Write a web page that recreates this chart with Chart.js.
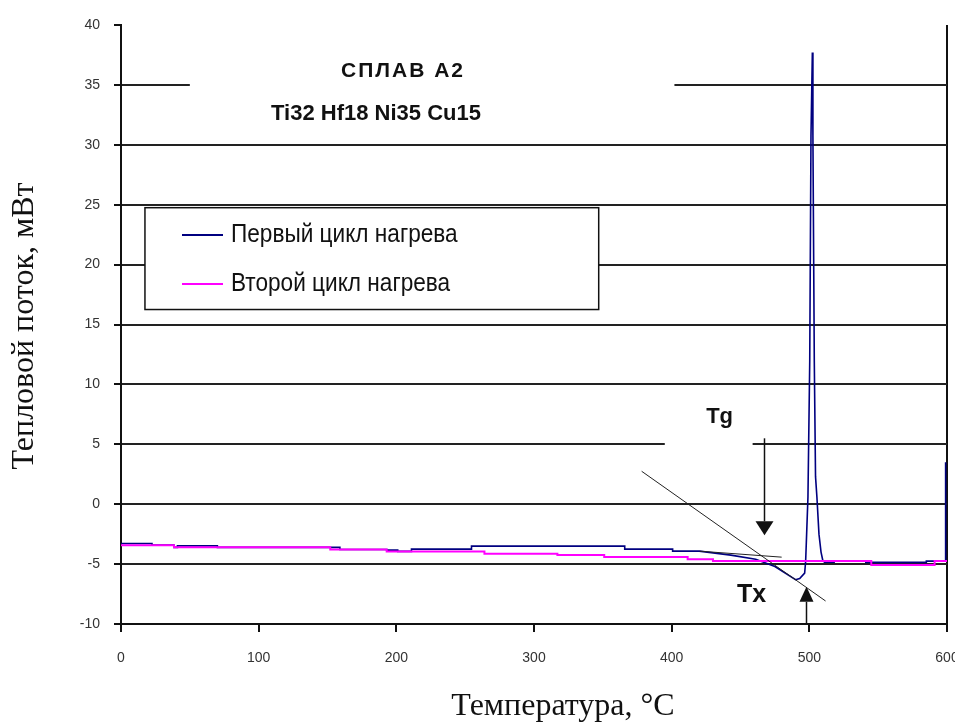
<!DOCTYPE html>
<html>
<head>
<meta charset="utf-8">
<script src="https://cdn.jsdelivr.net/npm/chart.js@4.4.1/dist/chart.umd.min.js"></script>
<style>
  body { margin: 0; background: #fff; }
  canvas { display: block; }
</style>
</head>
<body>
<canvas id="dsc" width="955" height="722"></canvas>
<script>
// first heating cycle (blue)
var temps1 = [0, 22.5, 22.5, 38.5, 38.5, 41, 41, 70, 70, 159, 159, 193, 193, 201, 201, 211, 211, 254.6, 254.6,
  365.9, 365.9, 400.7, 400.7, 420, 443, 461, 475, 490, 493, 496.6, 497.3, 497.8, 499, 500.3, 501.2, 502.2,
  502.6, 503.6, 504.5, 505.5, 507, 508.5, 509.8, 511, 518, 518, 541, 541, 585, 585, 598.6, 599]
var heat1 = [-3.28, -3.28, -3.42, -3.42, -3.6, -3.6, -3.48, -3.48, -3.6, -3.6, -3.78, -3.78, -3.83, -3.83, -3.94, -3.94, -3.75, -3.75, -3.5,
  -3.5, -3.75, -3.75, -3.92, -3.92, -4.25, -4.6, -5.2, -6.3, -6.2, -5.75, -4.8, -3.25, 0.6, 12, 30.8, 37.7,
  30.8, 12, 2.3, 0.6, -2.5, -4, -4.7, -4.85, -4.85, -4.75, -4.75, -4.86, -4.86, -4.75, -4.75, 3.5]

// second heating cycle (magenta)
var temps2 = [0, 38.5, 38.5, 152, 152, 193, 193, 264, 264, 317, 317, 351, 351, 411.6, 411.6, 430, 430, 545, 545, 591, 591, 600]
var heat2 = [-3.42, -3.42, -3.6, -3.6, -3.78, -3.78, -3.94, -3.94, -4.14, -4.14, -4.25, -4.25, -4.4, -4.4, -4.6, -4.6, -4.75, -4.75, -5.08, -5.08, -4.75, -4.75]

// tangent construction lines
var tangentX = [378.2, 511.8]
var tangentY = [2.75, -8.08]
var baseX = [420.3, 479.9]
var baseY = [-3.92, -4.42]

var seriesNames = ['Первый цикл нагрева', 'Второй цикл нагрева']

function toPoints (xs, ys) {
  return xs.map(function (v, i) { return {x: v, y: ys[i]} })
}

// text boxes, arrows and titles drawn on top
var overlay = {
  id: 'overlay',
  afterDraw (chart) {
    var ctx = chart.ctx
    var px = function (v) { return chart.scales.x.getPixelForValue(v) }
    var py = function (v) { return chart.scales.y.getPixelForValue(v) }
    ctx.save()

    // white text boxes that hide the grid lines
    ctx.fillStyle = '#fff'
    ctx.fillRect(px(50), py(38), px(402) - px(50), py(31) - py(38))
    ctx.fillRect(px(395), py(8.7), px(458.8) - px(395), py(4.1) - py(8.7))

    ctx.fillStyle = '#111'
    ctx.textAlign = 'center'
    ctx.textBaseline = 'middle'
    ctx.font = 'bold 21px "Liberation Sans", Arial'
    ctx.letterSpacing = '2px'
    ctx.fillText('СПЛАВ А2', 403, 71)
    ctx.letterSpacing = '0px'
    ctx.font = 'bold 22px "Liberation Sans", Arial'
    ctx.fillText('Ti32 Hf18 Ni35 Cu15', 376, 114)

    // legend
    var lx = px(17.4), ly = py(24.75)
    var lw = px(347) - lx, lh = py(16.25) - ly
    ctx.fillStyle = '#fff'
    ctx.fillRect(lx, ly, lw, lh)
    ctx.strokeStyle = '#111'
    ctx.lineWidth = 1.5
    ctx.strokeRect(lx, ly, lw, lh)
    var rows = [235, 284]
    chart.data.datasets.slice(0, 2).forEach(function (ds, i) {
      ctx.strokeStyle = ds.borderColor
      ctx.lineWidth = 2
      ctx.beginPath()
      ctx.moveTo(182, rows[i])
      ctx.lineTo(223, rows[i])
      ctx.stroke()
      ctx.save()
      ctx.translate(231, rows[i] + 7)
      ctx.scale(0.87, 1)
      ctx.fillStyle = '#111'
      ctx.textAlign = 'left'
      ctx.textBaseline = 'alphabetic'
      ctx.font = '26px "Liberation Sans", Arial'
      ctx.fillText(ds.label, 0, 0)
      ctx.restore()
    })

    // Tg and Tx arrows
    function arrow (xv, fromV, toV, w, h) {
      var x0 = Math.round(px(xv)) + 0.5, y0 = py(fromV), y1 = py(toV)
      var dir = y1 > y0 ? 1 : -1
      ctx.strokeStyle = '#111'
      ctx.lineWidth = 1.5
      ctx.beginPath()
      ctx.moveTo(x0, y0)
      ctx.lineTo(x0, y1 - dir * h)
      ctx.stroke()
      ctx.fillStyle = '#111'
      ctx.beginPath()
      ctx.moveTo(x0, y1)
      ctx.lineTo(x0 - w / 2, y1 - dir * h)
      ctx.lineTo(x0 + w / 2, y1 - dir * h)
      ctx.closePath()
      ctx.fill()
    }
    arrow(466.8, 5.5, -2.6, 18, 14)
    arrow(497.3, -10, -6.9, 14, 15)

    ctx.fillStyle = '#111'
    ctx.textAlign = 'center'
    ctx.textBaseline = 'middle'
    ctx.font = 'bold 22px "Liberation Sans", Arial'
    ctx.fillText('Tg', px(434.8), py(7.3))
    ctx.font = 'bold 25px "Liberation Sans", Arial'
    ctx.fillText('Tx', px(458), py(-7.6))

    // axis titles
    ctx.font = '32px "Liberation Serif", "Times New Roman", serif'
    ctx.textBaseline = 'alphabetic'
    ctx.fillText('Температура, °C', 563, 715)
    ctx.save()
    ctx.translate(33, 326)
    ctx.rotate(-Math.PI / 2)
    ctx.fillText('Тепловой поток, мВт', 0, 0)
    ctx.restore()

    ctx.restore()
  }
}

var chart = new Chart(document.getElementById('dsc').getContext('2d'), {
  type: 'scatter',
  data: {
    datasets: [
      {
        label: seriesNames[0],
        data: toPoints(temps1, heat1),
        borderColor: '#000080',
        borderWidth: 1.6,
        order: 2
      },
      {
        label: seriesNames[1],
        data: toPoints(temps2, heat2),
        borderColor: '#ff00ff',
        borderWidth: 2,
        order: 1
      },
      {
        label: 'tangent',
        data: toPoints(tangentX, tangentY),
        borderColor: '#222',
        borderWidth: 1,
        order: 0
      },
      {
        label: 'baseline',
        data: toPoints(baseX, baseY),
        borderColor: '#222',
        borderWidth: 1,
        order: 0
      }
    ]
  },
  options: {
    responsive: false,
    animation: false,
    devicePixelRatio: 1,
    showLine: true,
    elements: {
      point: { radius: 0, hoverRadius: 0 },
      line: { tension: 0 }
    },
    layout: { padding: { left: 0, right: 8, top: 25, bottom: 0 } },
    plugins: {
      legend: { display: false },
      tooltip: { enabled: false }
    },
    scales: {
      x: {
        type: 'linear',
        min: 0,
        max: 600,
        ticks: {
          stepSize: 100,
          padding: 18,
          color: '#333',
          font: { family: '"Liberation Sans", Arial', size: 14 }
        },
        grid: {
          color: function (c) { return c.tick && c.tick.value === 600 ? '#111' : 'transparent' },
          lineWidth: 2,
          tickLength: 8,
          tickColor: '#111',
          tickWidth: 2
        },
        border: { color: '#111', width: 2 },
        afterFit: function (s) { s.height = 98; s.paddingLeft = 0; s.paddingRight = 0 }
      },
      y: {
        min: -10,
        max: 40,
        ticks: {
          stepSize: 5,
          padding: 14,
          color: '#333',
          font: { family: '"Liberation Sans", Arial', size: 14 }
        },
        grid: {
          color: function (c) { return c.tick && c.tick.value === 40 ? 'transparent' : '#222' },
          lineWidth: 2,
          tickLength: 7,
          tickColor: '#111',
          tickWidth: 2
        },
        border: { color: '#111', width: 2 },
        afterFit: function (s) { s.width = 121; s.paddingTop = 0; s.paddingBottom = 0 }
      }
    }
  },
  plugins: [overlay]
})
</script>
</body>
</html>
